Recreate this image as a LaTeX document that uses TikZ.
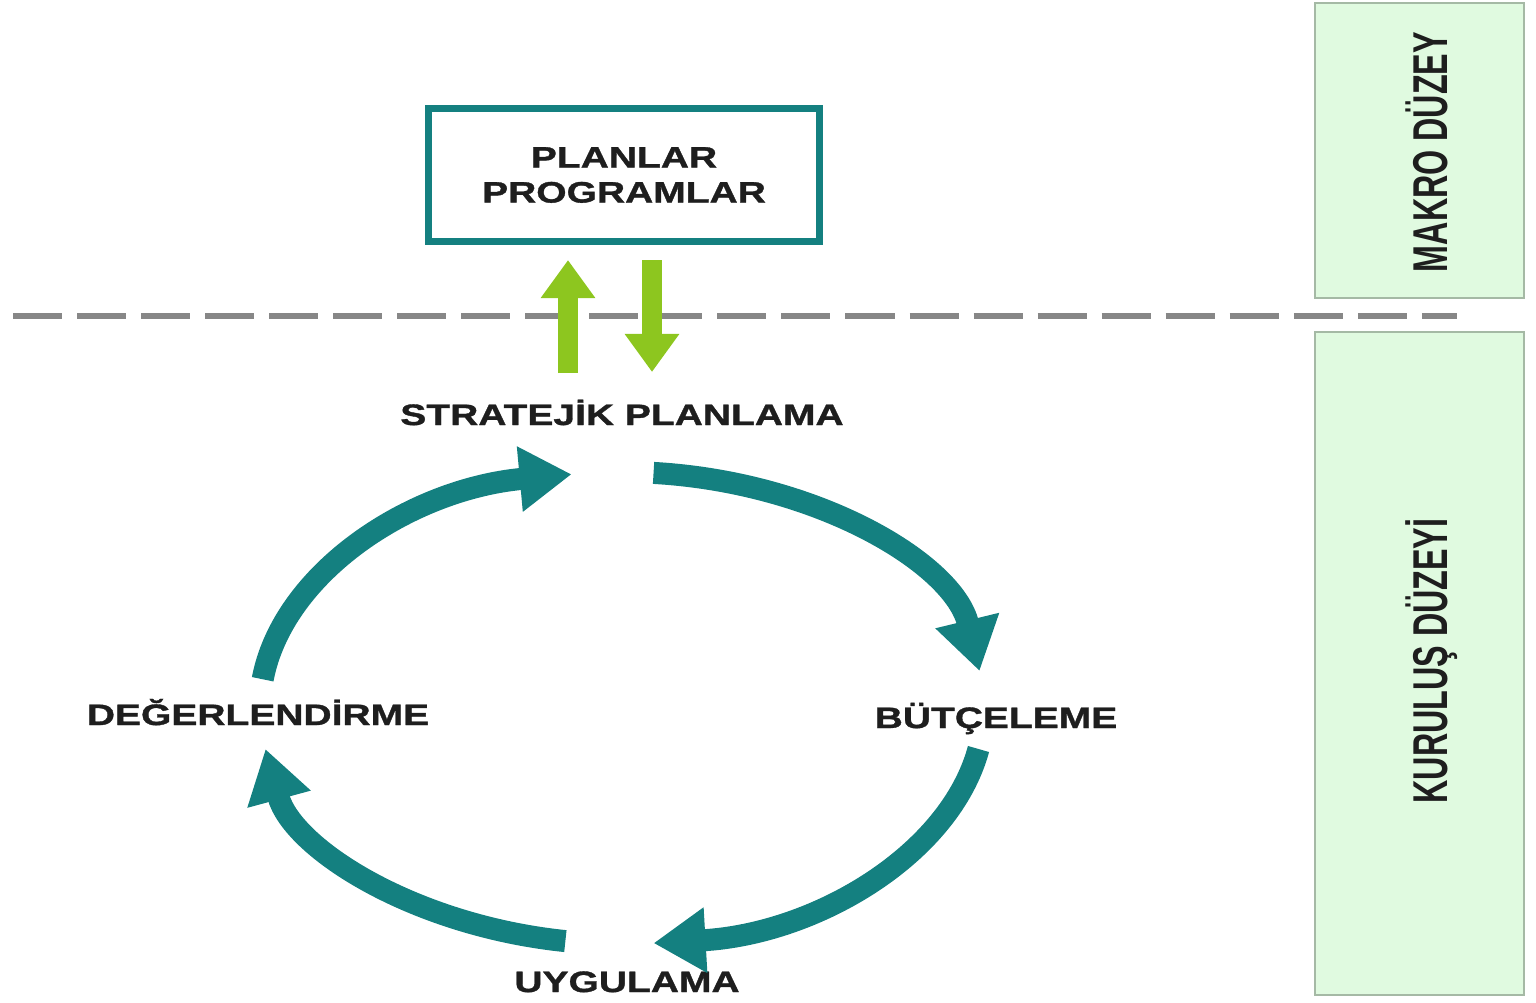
\documentclass[tikz,border=0pt]{standalone}
\usepackage{fontspec}
\usepackage{xcolor}
\usepackage{tikz}
\usetikzlibrary{arrows.meta}
\newfontfamily\lblfont[FakeStretch=1.32, FakeBold=1.2]{Liberation Sans Bold}
\newfontfamily\sidefont[FakeStretch=0.66]{Liberation Sans Bold}
\definecolor{tealc}{RGB}{20,128,128}
\definecolor{limec}{RGB}{141,198,31}
\definecolor{panelfill}{RGB}{224,250,224}
\definecolor{paneledge}{RGB}{165,185,165}
\definecolor{dashc}{RGB}{135,135,135}
\definecolor{inkc}{RGB}{30,30,30}

\begin{document}
\begin{tikzpicture}[x=0.01cm, y=-0.01cm,
    lbl/.style={font=\lblfont\fontsize{8.4}{9.96}\selectfont, text=inkc, anchor=base, inner sep=0pt},
    side/.style={font=\sidefont\fontsize{13.9}{16}\selectfont, text=inkc, rotate=90, anchor=base, inner sep=0pt},
    panel/.style={draw=paneledge, line width=0.02cm, fill=panelfill, minimum width=2.09cm},
    cyc/.style={draw=tealc, line width=0.22cm, -{Triangle[width=0.62cm, length=0.52cm]}},
    updown/.style={draw=limec, line width=0.2cm, -{Triangle[width=0.52cm, length=0.38cm]}}]
    \useasboundingbox (0,0) rectangle (1536,1002);

    \node[panel, minimum height=2.95cm] (makro) at (1419.5,150.5) {};
    \node[panel, minimum height=6.63cm] (kurulus) at (1419.5,663.5) {};
    \node[side] (makrotxt) at (1447,152) {MAKRO DÜZEY};
    \node[side] (kurtxt) at (1447,661) {KURULUŞ DÜZEYİ};

    \draw[dashc, line width=0.055cm, dash pattern=on 0.49cm off 0.15cm] (13,316) -- (1457,316);

    \node[draw=tealc, line width=0.07cm, minimum width=3.91cm, minimum height=1.33cm, align=center,
          font=\lblfont\fontsize{8.4}{9.96}\selectfont, text=inkc] (plan) at (624,175) {PLANLAR\\PROGRAMLAR};

    \coordinate (upfoot) at (568,373);
    \coordinate (uphead) at (568,260);
    \coordinate (downtop) at (652,260);
    \coordinate (downhead) at (652,372);
    \draw[updown] (upfoot) -- (uphead);
    \draw[updown] (downtop) -- (downhead);

    \node[lbl] (strat) at (622,425) {STRATEJİK PLANLAMA};
    \node[lbl] (deger) at (258,725) {DEĞERLENDİRME};
    \node[lbl] (butce) at (996,728) {BÜTÇELEME};
    \node[lbl] (uygu) at (627,992) {UYGULAMA};

    \coordinate (ctr) at (622,708);
    \draw[cyc] (ctr) ++(-85:362 and 236) arc[start angle=-85, end angle=-9, x radius=362, y radius=236];
    \draw[cyc] (ctr) ++(10:362 and 236) arc[start angle=10, end angle=85, x radius=362, y radius=236];
    \draw[cyc] (ctr) ++(99:362 and 236) arc[start angle=99, end angle=170, x radius=362, y radius=236];
    \draw[cyc] (ctr) ++(187:362 and 236) arc[start angle=187, end angle=262, x radius=362, y radius=236];
\end{tikzpicture}
\end{document}
